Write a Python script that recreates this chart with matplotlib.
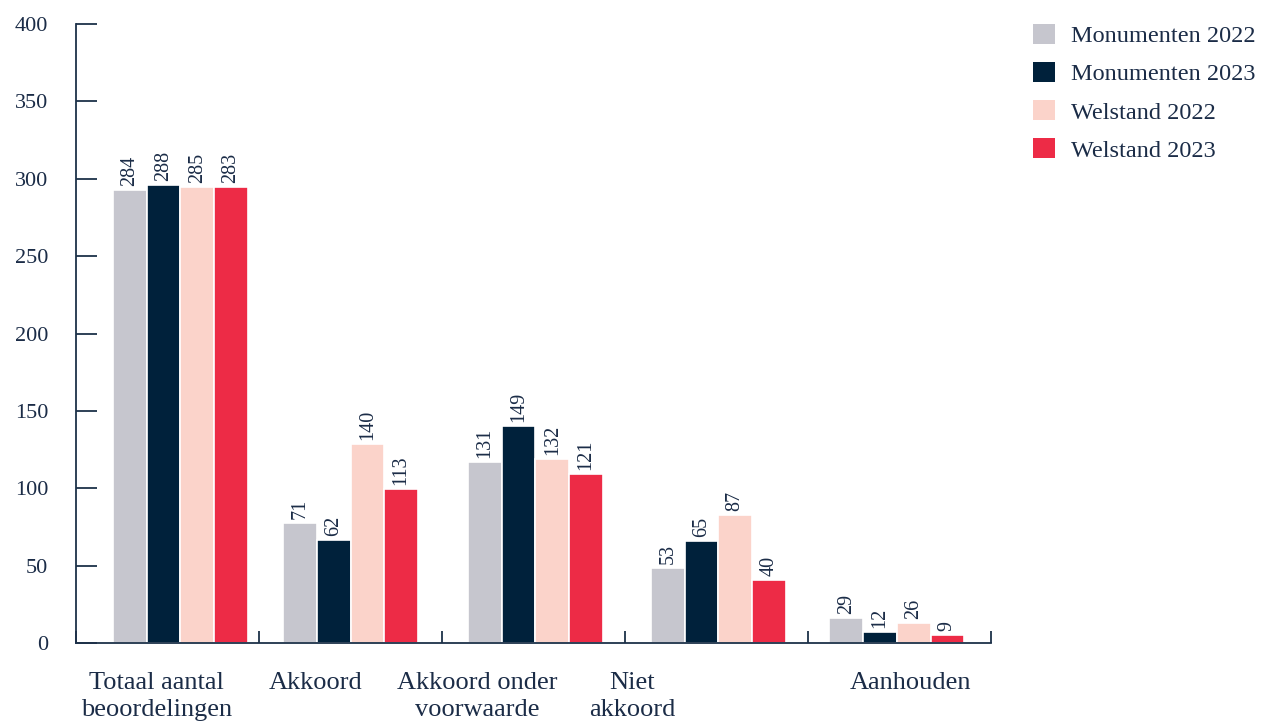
"""Beoordelingen monumenten en welstand 2022-2023, gegroepeerd staafdiagram."""

import matplotlib

matplotlib.use("Agg")
import matplotlib.pyplot as plt
import numpy as np
from matplotlib.patches import Patch

categories = [
    "Totaal aantal\nbeoordelingen",
    "Akkoord",
    "Akkoord onder\nvoorwaarde",
    "Niet\nakkoord",
    "Aanhouden",
]
series = ["Monumenten 2022", "Monumenten 2023", "Welstand 2022", "Welstand 2023"]

# bar heights as drawn in the source (they differ from the printed labels)
mon_2022 = [292.7, 77.3, 117.0, 48.5, 16.2]
mon_2023 = [296.0, 66.6, 140.2, 65.9, 7.1]
wel_2022 = [294.7, 128.6, 118.9, 82.7, 12.9]
wel_2023 = [294.7, 99.5, 109.2, 40.7, 5.2]

# printed values
lab_mon_2022 = [284, 71, 131, 53, 29]
lab_mon_2023 = [288, 62, 149, 65, 12]
lab_wel_2022 = [285, 140, 132, 87, 26]
lab_wel_2023 = [283, 113, 121, 40, 9]

y_ticks = [0, 50, 100, 150, 200, 250, 300, 350, 400]

colors = ["#c6c6ce", "#00213b", "#fbd3ca", "#ed2b46"]
TEXT = "#1b2c47"
AXIS = "#1d3149"
FONT = ["Liberation Serif", "DejaVu Serif"]

plt.rcParams["font.family"] = FONT

heights = [mon_2022, mon_2023, wel_2022, wel_2023]
labels = [lab_mon_2022, lab_mon_2023, lab_wel_2022, lab_wel_2023]

fig = plt.figure(figsize=(12.63, 7.25), dpi=100)
ax = fig.add_axes([0.0602, 0.1131, 0.7245, 0.8538])

x = np.arange(len(categories))
group_shift = [0.07, 0.0, 0.01, 0.01, -0.015]
label_shift = [-0.06, -0.19, -0.31, -0.46, 0.06]
pitch = 0.184

for j, (vals, labs) in enumerate(zip(heights, labels)):
    pos = x + np.array(group_shift) + (j - 1.5) * pitch
    ax.bar(pos, vals, width=pitch, color=colors[j], edgecolor="white", linewidth=1.2)
    for px, v, lab in zip(pos, vals, labs):
        ax.annotate(str(lab), (px, v), xytext=(0, 3), textcoords="offset points",
                    rotation=90, ha="center", va="bottom", fontsize=14.5, color=TEXT)

ax.set_xlim(-0.5, len(categories) - 0.5)
ax.set_ylim(0, 400)

for side in ["top", "right"]:
    ax.spines[side].set_visible(False)
for side in ["left", "bottom"]:
    ax.spines[side].set_color(AXIS)
    ax.spines[side].set_linewidth(1.3)

ax.set_yticks(y_ticks)
ax.tick_params(axis="y", direction="in", length=15, width=1.3, color=AXIS,
               labelsize=16, labelcolor=TEXT, pad=20)
ax.set_xticks(np.arange(len(categories) + 1) - 0.5)
ax.set_xticklabels([])
ax.tick_params(axis="x", direction="in", length=9, width=1.3, color=AXIS)

for i, cat in enumerate(categories):
    ax.text(i + label_shift[i], -18.5, cat, ha="center", va="top", fontsize=19,
            color=TEXT, linespacing=1.3, clip_on=False)

handles = [Patch(facecolor=c, edgecolor="none") for c in colors]
fig.legend(handles, series, loc="upper left", bbox_to_anchor=(0.818, 0.967),
           frameon=False, fontsize=17.5, labelcolor=TEXT, handlelength=0.9,
           handleheight=0.9, handletextpad=0.66, labelspacing=0.6,
           borderaxespad=0, borderpad=0)

fig.savefig("out.png", dpi=100)
